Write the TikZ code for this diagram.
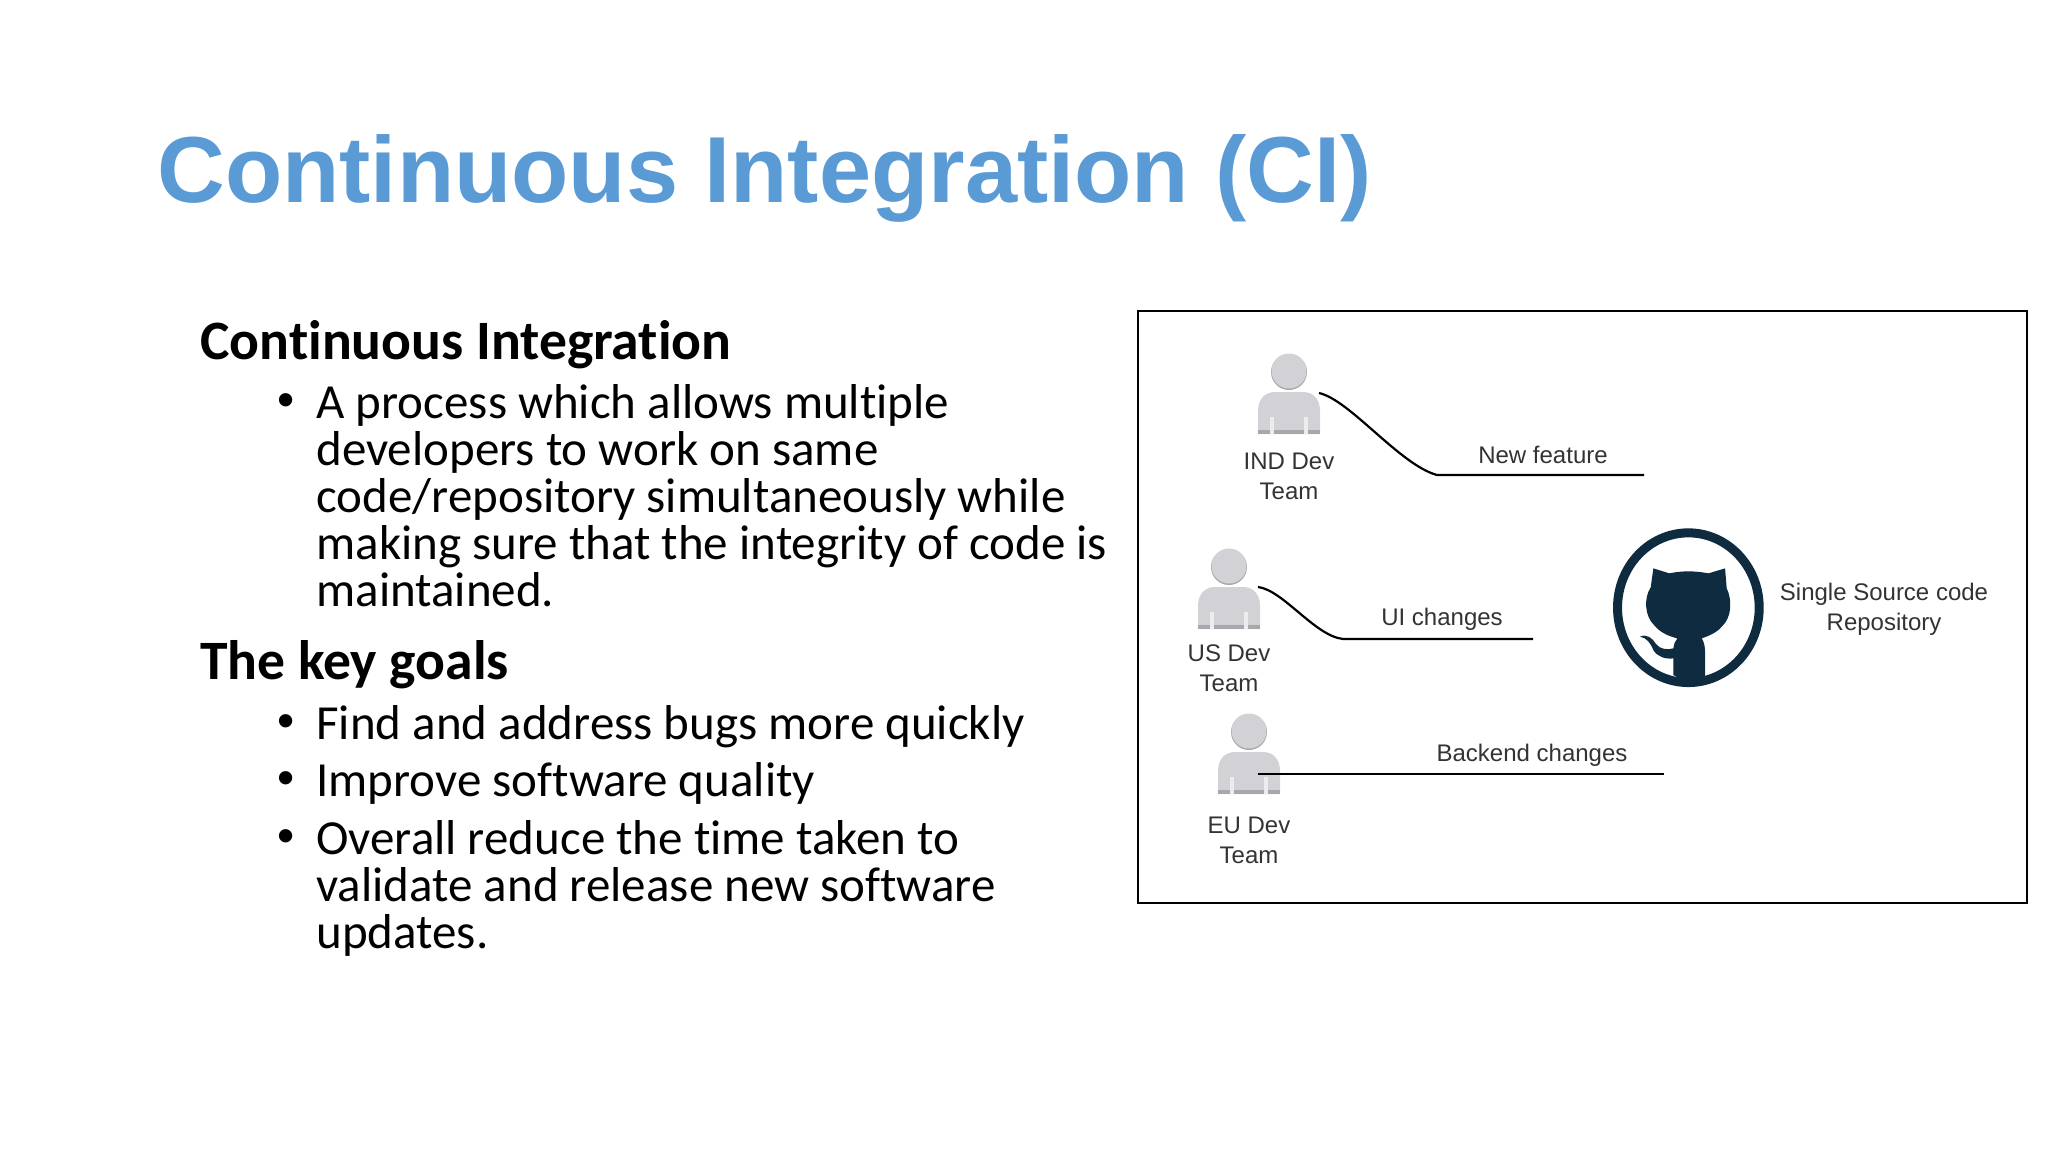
\documentclass[tikz,border=0pt]{standalone}
\usepackage{fontspec}
\setmainfont[Ligatures=NoCommon]{Carlito}
\newfontfamily\arialfont{Liberation Sans}
\definecolor{titleblue}{HTML}{5B9BD5}
\definecolor{cathub}{HTML}{0F2B40}
\definecolor{persongray}{HTML}{D2D2D6}
\definecolor{personedge}{HTML}{A8A8AC}
\definecolor{personslit}{HTML}{ECECEE}
\definecolor{labelgray}{HTML}{333333}
\tikzset{
  x=0.5pt,y=-0.5pt,
  bodytext/.style={anchor=north west,inner sep=0pt,align=left,text=black,font=\fontsize{24.5}{23.5}\selectfont},
  headtext/.style={anchor=north west,inner sep=0pt,align=left,text=black,font=\fontsize{27.8}{30}\selectfont\bfseries},
  bulletmark/.style={anchor=north west,inner sep=0pt,text=black,font=\arialfont\fontsize{24.5}{23.5}\selectfont},
  difflabel/.style={inner sep=0pt,align=center,text=labelgray,font=\arialfont\fontsize{12}{15}\selectfont},
  flowline/.style={draw=black,line width=1.1pt},
  pics/person/.style={code={
    \fill[personedge] (0,1) circle[radius=18];
    \fill[persongray] (0,0) circle[radius=17.5];
    \fill[persongray] (-31,63) -- (-31,40) .. controls (-31,28) and (-24,21) .. (-14,21)
      -- (14,21) .. controls (24,21) and (31,28) .. (31,40) -- (31,63) -- cycle;
    \fill[personedge] (-31,59) rectangle (31,63);
    \fill[personslit] (-19,46) rectangle (-15,63);
    \fill[personslit] (15,46) rectangle (19,63);
  }}
}
\begin{document}
\begin{tikzpicture}
\useasboundingbox (0,0) rectangle (2048,1152);
\fill[white] (0,0) rectangle (2048,1152);

\node[anchor=base west,inner sep=0pt,text=titleblue,font=\arialfont\bfseries\fontsize{46.9}{56}\selectfont] (title) at (157,202) {Continuous Integration (CI)};

\node[headtext] (h1) at (200,320) {Continuous Integration};
\node[bulletmark] (b1) at (277,393) {•};
\node[bodytext] (p1) at (316,384) {A process which allows multiple\\developers to work on same\\code/repository simultaneously while\\making sure that the integrity of code is\\maintained.};
\node[headtext] (h2) at (200,640) {The key goals};
\node[bulletmark] (b2) at (277,714) {•};
\node[bodytext] (p2) at (316,705) {Find and address bugs more quickly};
\node[bulletmark] (b3) at (277,771) {•};
\node[bodytext] (p3) at (316,762) {Improve software quality};
\node[bulletmark] (b4) at (277,829) {•};
\node[bodytext] (p4) at (316,820) {Overall reduce the time taken to\\validate and release new software\\updates.};

\node[draw=black,line width=1pt,minimum width=444.5pt,minimum height=296pt,inner sep=0pt,anchor=north west] (frame) at (1137,310) {};

\coordinate (ind) at (1289,371);
\coordinate (us) at (1229,566);
\coordinate (eu) at (1249,731);
\pic at (ind) {person};
\pic at (us) {person};
\pic at (eu) {person};

\node[difflabel] (indl) at (1289,476) {IND Dev\\Team};
\node[difflabel] (usl) at (1229,668) {US Dev\\Team};
\node[difflabel] (eul) at (1249,840) {EU Dev\\Team};

\coordinate (a1) at (1319,393);
\coordinate (a2) at (1437,475);
\coordinate (a3) at (1644,475);
\coordinate (b1c) at (1258,587);
\coordinate (b2c) at (1343,639);
\coordinate (b3c) at (1533,639);
\coordinate (c1) at (1258,774);
\coordinate (c2) at (1664,774);
\draw[flowline] (a1) .. controls (1350,400) and (1400,465) .. (a2) -- (a3);
\draw[flowline] (b1c) .. controls (1283,590) and (1315,636) .. (b2c) -- (b3c);
\draw[flowline] (c1) -- (c2);

\node[difflabel] (nf) at (1543,455) {New feature};
\node[difflabel] (ui) at (1442,619) {UI changes};
\node[difflabel] (be) at (1532,755) {Backend changes};
\node[difflabel] (repo) at (1884,609) {Single Source code\\Repository};

\begin{scope}[shift={(1580,510)},x=0.1667pt,y=-0.1667pt]
  \fill[cathub,even odd rule] (325,293) ellipse[x radius=226,y radius=238]
     (325,293) ellipse[x radius=199,y radius=211];
  \fill[cathub] (220,175) -- (268,190) .. controls (305,182) and (345,182) .. (385,190)
    -- (435,175) -- (440,235) .. controls (455,265) and (458,320) .. (425,350)
    .. controls (410,368) and (385,378) .. (365,385)
    .. controls (372,395) and (375,410) .. (375,425) -- (375,500)
    .. controls (345,515) and (310,515) .. (280,495) -- (280,445)
    .. controls (255,448) and (232,440) .. (220,420)
    .. controls (212,400) and (200,383) .. (180,380)
    .. controls (200,370) and (218,385) .. (228,402)
    .. controls (240,418) and (262,420) .. (280,415)
    .. controls (282,402) and (285,392) .. (292,385)
    .. controls (262,378) and (238,365) .. (222,345)
    .. controls (195,320) and (190,265) .. (212,232) -- cycle;
\end{scope}
\end{tikzpicture}
\end{document}
